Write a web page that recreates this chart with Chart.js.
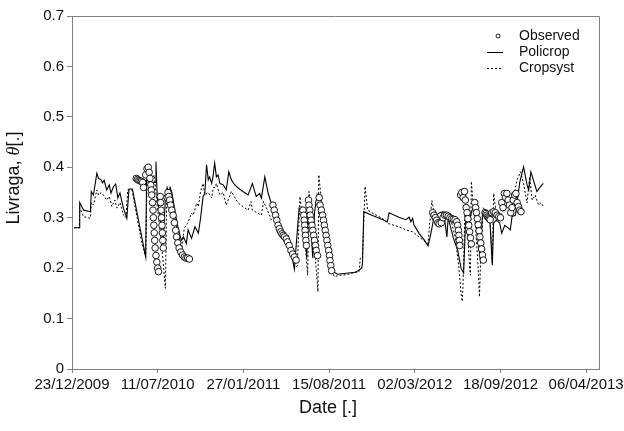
<!DOCTYPE html>
<html><head><meta charset="utf-8">
<script src="https://cdn.jsdelivr.net/npm/chart.js@4/dist/chart.umd.min.js"></script>
<style>html,body{margin:0;padding:0;background:#fff}#wrap{width:624px;height:431px}</style>
</head><body><div id="wrap"><canvas id="c" width="624" height="431"></canvas></div>
<script>
// ---- tick labels ----
const xTickDays = [0, 200, 400, 600, 800, 1000, 1200];
const xTickLabels = ["23/12/2009","11/07/2010","27/01/2011","15/08/2011","02/03/2012","18/09/2012","06/04/2013"];
const yTickValues = [0, 0.1, 0.2, 0.3, 0.4, 0.5, 0.6, 0.7];
const yTickLabels = ["0","0.1","0.2","0.3","0.4","0.5","0.6","0.7"];

// ---- Observed (days since 23/12/2009) ----
const obsDays = [150,153,156,159,162,165,167,172,175,178,180,182,184,185,186,188,189,190,191,192,193,194,196,198,200,202,
206,207,208,209,210,211,212,213,
222,224,226,228,230,233,236,239,242,244,247,250,254,258,262,266,270,274,
469,472,475,478,481,484,487,490,493,496,500,503,507,511,515,519,523,
539,541,542,543,544,545,546,547,
552,553,555,556,558,560,562,564,566,568,570,573,
576,577,579,582,585,587,589,591,593,595,597,599,601,602,604,606,
842,845,848,851,854,857,862,866,870,874,878,882,886,890,894,898,900,902,903,904,905,
907,910,913,916,918,920,922,924,926,928,930,932,
940,942,944,946,948,950,952,954,956,958,960,
964,966,968,970,972,974,976,980,984,988,992,996,1000,
1003,1006,1009,1012,1015,1018,1021,1024,1027,1030,1033,1036,1039,1042,1045,1048];
const obsVals = [0.378,0.376,0.374,0.373,0.372,0.37,0.36,0.385,0.397,0.4,0.39,0.378,0.365,0.355,0.345,0.33,0.315,0.3,0.285,0.27,0.255,0.24,0.225,0.212,0.2,0.193,
0.342,0.33,0.315,0.3,0.285,0.27,0.255,0.24,
0.34,0.35,0.342,0.335,0.325,0.315,0.305,0.29,0.275,0.262,0.25,0.24,0.232,0.226,0.222,0.22,0.22,0.218,
0.325,0.315,0.305,0.295,0.285,0.278,0.272,0.268,0.265,0.262,0.258,0.252,0.245,0.235,0.228,0.222,0.216,
0.315,0.305,0.295,0.285,0.275,0.265,0.255,0.245,
0.335,0.325,0.315,0.305,0.295,0.285,0.275,0.265,0.255,0.245,0.235,0.225,
0.33,0.34,0.325,0.315,0.305,0.295,0.285,0.275,0.265,0.255,0.245,0.235,0.225,0.215,0.205,0.195,
0.31,0.305,0.3,0.295,0.29,0.288,0.29,0.3,0.305,0.305,0.303,0.3,0.298,0.297,0.296,0.292,0.285,0.275,0.265,0.255,0.245,
0.345,0.35,0.34,0.352,0.335,0.32,0.31,0.298,0.285,0.272,0.26,0.248,
0.33,0.32,0.31,0.298,0.286,0.274,0.262,0.25,0.238,0.226,0.216,
0.31,0.308,0.305,0.302,0.3,0.298,0.296,0.31,0.312,0.31,0.305,0.302,0.3,
0.33,0.32,0.348,0.34,0.348,0.335,0.325,0.31,0.32,0.335,0.345,0.348,0.33,0.322,0.315,0.312];

// ---- Policrop ----
const polDays = [5,17,18,27,43,45,50,58,62,68,71,75,81,87,91,97,102,107,112,120,128,133,141,172,174,180,186,194,196,199,206,213,218,222,226,229,233,245,255,
260,267,271,279,287,295,300,306,310,314,318,321,326,329,333,337,341,345,353,360,366,372,380,388,399,411,421,430,438,442,450,458,465,477,488,500,512,519,
530,536,542,548,551,556,562,566,572,576,590,605,612,620,640,660,668,676,678,681,700,720,736,740,763,779,787,791,795,798,810,822,831,837,
845,858,866,870,875,878,890,900,908,914,919,925,934,940,946,953,958,968,975,981,984,990,998,1003,1010,1018,1023,1027,1035,1045,1054,1062,1066,1071,1085,1092,1100];
const polVals = [0.28,0.28,0.33,0.315,0.312,0.352,0.345,0.388,0.378,0.375,0.369,0.374,0.355,0.365,0.349,0.362,0.367,0.339,0.349,0.319,0.299,0.357,0.357,0.222,0.375,0.372,0.37,0.37,0.411,0.34,0.3,0.25,0.34,0.36,0.35,0.36,0.35,0.29,0.255,
0.262,0.249,0.276,0.259,0.282,0.269,0.299,0.342,0.348,0.405,0.375,0.381,0.368,0.381,0.408,0.381,0.385,0.368,0.365,0.355,0.391,0.375,0.365,0.359,0.352,0.345,0.368,0.342,0.348,0.339,0.381,0.348,0.329,0.309,0.278,0.258,0.229,0.198,
0.319,0.315,0.3,0.22,0.339,0.3,0.22,0.31,0.345,0.33,0.27,0.21,0.192,0.188,0.19,0.192,0.195,0.2,0.21,0.312,0.305,0.298,0.292,0.31,0.301,0.296,0.301,0.292,0.299,0.286,0.269,0.256,0.244,0.266,
0.302,0.31,0.312,0.295,0.262,0.3,0.26,0.236,0.2,0.19,0.302,0.29,0.315,0.33,0.27,0.216,0.309,0.309,0.3,0.206,0.289,0.295,0.29,0.269,0.285,0.28,0.276,0.302,0.305,0.37,0.401,0.365,0.355,0.391,0.352,0.36,0.368];

// ---- Cropsyst ----
const cropDays = [5,17,18,27,43,45,50,58,62,68,75,81,87,93,100,105,112,120,126,130,140,163,172,175,185,192,198,206,212,218,221,225,230,240,250,256,
262,270,279,283,291,295,300,306,310,318,326,330,334,337,345,353,360,372,380,388,399,411,418,421,442,447,456,465,477,488,495,505,512,520,526,
532,538,544,550,553,560,568,574,576,585,595,605,612,625,640,655,670,673,678,684,690,710,729,736,763,779,795,810,825,831,835,840,
845,852,858,864,870,878,886,895,903,908,911,914,917,921,925,928,930,932,936,942,948,951,955,960,966,975,981,984,990,998,1010,1020,1030,1039,1047,1054,1062,1068,1074,1081,1089,1095,1100];
const cropVals = [0.28,0.28,0.32,0.302,0.299,0.33,0.325,0.355,0.345,0.35,0.343,0.335,0.342,0.322,0.335,0.319,0.33,0.305,0.3,0.355,0.355,0.25,0.222,0.37,0.375,0.385,0.33,0.27,0.22,0.16,0.34,0.355,0.345,0.3,0.26,0.235,
0.279,0.289,0.309,0.305,0.329,0.322,0.352,0.368,0.345,0.35,0.339,0.36,0.36,0.368,0.345,0.35,0.325,0.352,0.34,0.329,0.322,0.315,0.332,0.315,0.305,0.332,0.315,0.296,0.3,0.285,0.272,0.265,0.24,0.2,0.205,
0.342,0.3,0.25,0.186,0.352,0.28,0.22,0.153,0.385,0.31,0.25,0.2,0.183,0.186,0.187,0.19,0.193,0.22,0.22,0.362,0.315,0.305,0.296,0.289,0.282,0.276,0.272,0.262,0.252,0.249,0.29,0.334,
0.31,0.3,0.295,0.31,0.305,0.3,0.29,0.26,0.2,0.15,0.134,0.2,0.32,0.29,0.25,0.2,0.186,0.372,0.33,0.28,0.2,0.143,0.25,0.32,0.312,0.305,0.21,0.348,0.31,0.3,0.32,0.33,0.34,0.375,0.391,0.368,0.329,0.381,0.335,0.345,0.325,0.33,0.322];

const FONT = "'Liberation Sans', Arial, Helvetica, sans-serif";
const pts = (d, v) => d.map((x, i) => ({ x: x, y: v[i] }));

const decor = {
  id: 'decor',
  afterDraw(chart) {
    const c = chart.ctx, a = chart.chartArea;
    c.save();
    // frame (top/right)
    c.strokeStyle = '#808080'; c.lineWidth = 1;
    c.beginPath();
    c.moveTo(a.left, a.top + 0.5); c.lineTo(a.right + 0.5, a.top + 0.5); c.lineTo(a.right + 0.5, a.bottom);
    c.stroke();
    // legend
    const ds = chart.data.datasets;
    const lx1 = 487, lx2 = 503, tx = 519, ys = [36, 52, 68];
    c.font = '14px ' + FONT; c.textBaseline = 'middle'; c.textAlign = 'left';
    c.strokeStyle = '#000'; c.lineWidth = 0.9;
    c.beginPath(); c.arc(498, ys[0], 2, 0, Math.PI * 2); c.fillStyle = '#fff'; c.fill(); c.stroke();
    c.beginPath(); c.lineWidth = 1; c.moveTo(lx1, ys[1] + 0.5); c.lineTo(lx2, ys[1] + 0.5); c.stroke();
    c.beginPath(); c.setLineDash([2, 2]); c.moveTo(lx1, ys[2] + 0.5); c.lineTo(lx2, ys[2] + 0.5); c.stroke(); c.setLineDash([]);
    c.fillStyle = '#111';
    ds.forEach((d, i) => c.fillText(d.label, tx, ys[i]));
    // x title
    c.font = '18px ' + FONT; c.textAlign = 'center';
    c.fillText('Date [.]', 328, 408);
    // y title with italic theta
    c.translate(14, 178); c.rotate(-Math.PI / 2);
    const parts = [['Livraga, ', '18px ' + FONT], ['\u03B8', 'italic 18px "Liberation Serif", "Times New Roman", serif'], ['[.]', '18px ' + FONT]];
    let total = 0;
    parts.forEach(p => { c.font = p[1]; total += c.measureText(p[0]).width; });
    let x = -total / 2; c.textAlign = 'left';
    parts.forEach(p => { c.font = p[1]; c.fillText(p[0], x, 0); x += c.measureText(p[0]).width; });
    c.restore();
  }
};

new Chart(document.getElementById('c').getContext('2d'), {
  type: 'scatter',
  data: {
    datasets: [
      { label: 'Observed', data: pts(obsDays, obsVals), showLine: false, pointRadius: 3.3, pointBorderWidth: 0.9,
        pointBorderColor: '#000', pointBackgroundColor: '#fff', order: 0 },
      { label: 'Policrop', data: pts(polDays, polVals), showLine: true, pointRadius: 0, borderColor: '#000',
        borderWidth: 1.1, tension: 0, order: 1 },
      { label: 'Cropsyst', data: pts(cropDays, cropVals), showLine: true, pointRadius: 0, borderColor: '#000',
        borderWidth: 1, borderDash: [2, 2], tension: 0, order: 2 }
    ]
  },
  options: {
    responsive: false, animation: false, events: [],
    layout: { padding: { top: 16, right: 25, left: 0, bottom: 0 } },
    plugins: { legend: { display: false }, tooltip: { enabled: false } },
    scales: {
      x: {
        type: 'linear', min: 0, max: 1230,
        afterBuildTicks: s => { s.ticks = xTickDays.map(v => ({ value: v })); },
        ticks: { callback: v => { const i = xTickDays.indexOf(v); return i >= 0 ? xTickLabels[i] : ''; },
                 font: { family: FONT, size: 15 }, color: '#111', maxRotation: 0, autoSkip: false, padding: 3 },
        grid: { drawOnChartArea: false, drawTicks: true, tickLength: 4, color: '#808080' },
        border: { display: true, color: '#808080' },
        afterFit: s => { s.height = 62; s.paddingLeft = 0; s.paddingRight = 0; }
      },
      y: {
        min: 0, max: 0.7,
        afterBuildTicks: s => { s.ticks = yTickValues.map(v => ({ value: v })); },
        ticks: { callback: v => { const i = yTickValues.findIndex(t => Math.abs(t - v) < 1e-9); return i >= 0 ? yTickLabels[i] : ''; },
                 font: { family: FONT, size: 15 }, color: '#111', padding: 3 },
        grid: { drawOnChartArea: false, drawTicks: true, tickLength: 5, color: '#808080' },
        border: { display: true, color: '#808080' },
        afterFit: s => { s.width = 72; }
      }
    }
  },
  plugins: [decor]
});
</script>
</body></html>
